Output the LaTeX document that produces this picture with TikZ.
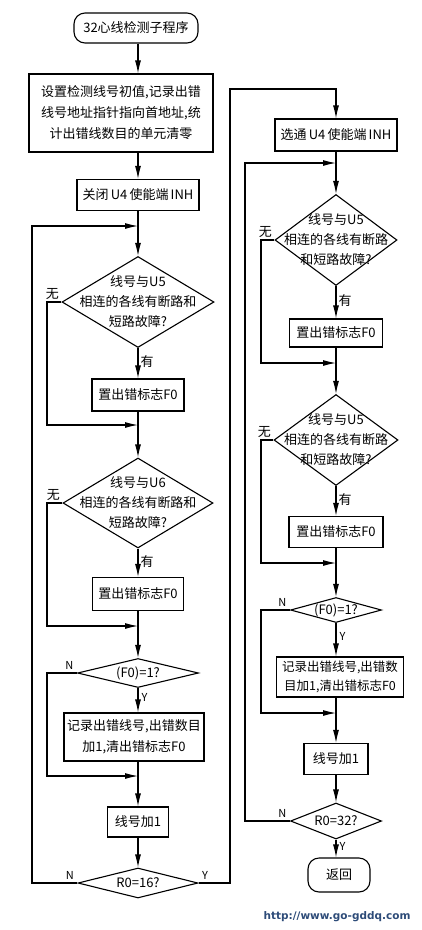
\documentclass[tikz,border=0pt]{standalone}
\usepackage{fontspec}
\newfontfamily\cjkfont{Noto Sans CJK SC}
\newfontfamily\urlfont{DejaVu Sans}
\usepackage{xcolor}
\usepackage{tikz}
\usetikzlibrary{arrows.meta, positioning, shapes.geometric}
\definecolor{wmblue}{RGB}{45,75,120}

\begin{document}
\begin{tikzpicture}[x=1pt, y=-1pt,
  fbox/.style={rectangle, draw=black, line width=1.1pt, inner sep=2pt, align=center, font=\cjkfont\fontsize{13}{21}\selectfont},
  fterm/.style={fbox, rounded corners=11pt},
  fdia/.style={diamond, draw=black, line width=1.1pt, inner sep=0pt},
  dtext/.style={align=center, font=\cjkfont\fontsize{13}{20}\selectfont},
  conn/.style={line width=1.1pt, -{Latex[length=13pt,width=6pt]}},
  tag/.style={font=\cjkfont\fontsize{13}{13}\selectfont, inner sep=2pt},
  yn/.style={font=\cjkfont\fontsize{11}{11}\selectfont, inner sep=3pt}
]
  \useasboundingbox (0,0) rectangle (421,930);
  % x positions of the loop-back lines
  \coordinate (LA) at (32,0);
  \coordinate (LB) at (47,0);
  \coordinate (RA) at (230,0);
  \coordinate (RB) at (245,0);
  \coordinate (RC) at (261,0);

  % left column
  \node[fterm, minimum width=124, minimum height=30] (S) at (136,28) {32心线检测子程序};
  \node[fbox, minimum width=184, minimum height=78] (B1) at (121,113) {设置检测线号初值,记录出错\\线号地址指针指向首地址,统\\计出错线数目的单元清零};
  \node[fbox, minimum width=122, minimum height=31] (B2) at (138,195) {关闭\,U4\,使能端\,INH};
  \coordinate (J1) at (138,226);
  \node[fdia, minimum width=152, minimum height=91] (D1) at (138,302) {};
  \node[dtext] at (D1.center) {线号与U5\\相连的各线有断路和\\短路故障?};
  \node[fbox, minimum width=92, minimum height=32] (F1) at (138,395) {置出错标志F0};
  \coordinate (M1) at (138,425);
  \node[fdia, minimum width=150, minimum height=90] (D2) at (138,503) {};
  \node[dtext] at (D2.center) {线号与U6\\相连的各线有断路和\\短路故障?};
  \node[fbox, minimum width=91, minimum height=33] (F2) at (138,594) {置出错标志F0};
  \coordinate (M2) at (138,626);
  \node[fdia, minimum width=121, minimum height=29] (D3) at (138,673) {};
  \node[dtext] at (D3.center) {(F0)=1?};
  \node[fbox, minimum width=140, minimum height=48] (B3) at (134,737) {记录出错线号,出错数目\\加1,清出错标志F0};
  \coordinate (M3) at (138,776);
  \node[fbox, minimum width=61, minimum height=30] (C1) at (138,822) {线号加1};
  \node[fdia, minimum width=120, minimum height=30] (D4) at (138,883) {};
  \node[dtext] at (D4.center) {R0=16?};

  % right column
  \coordinate (T1) at (336,89);
  \node[fbox, minimum width=122, minimum height=32] (B4) at (336,135) {选通\,U4\,使能端\,INH};
  \coordinate (J2) at (336,163);
  \node[fdia, minimum width=122, minimum height=91] (D5) at (336,240) {};
  \node[dtext] at (D5.center) {线号与U5\\相连的各线有断路\\和短路故障?};
  \node[fbox, minimum width=93, minimum height=28] (F3) at (336,333) {置出错标志F0};
  \coordinate (M4) at (336,363);
  \node[fdia, minimum width=124, minimum height=91] (D6) at (336,440) {};
  \node[dtext] at (D6.center) {线号与U5\\相连的各线有断路\\和短路故障?};
  \node[fbox, minimum width=94, minimum height=31] (F4) at (336,532) {置出错标志F0};
  \coordinate (M5) at (336,563);
  \node[fdia, minimum width=91, minimum height=25] (D7) at (336,610) {};
  \node[dtext] at (D7.center) {(F0)=1?};
  \node[fbox, minimum width=127, minimum height=40, font=\cjkfont\fontsize{12.5}{19}\selectfont] (B5) at (340,677) {记录出错线号,出错数\\目加1,清出错标志F0};
  \coordinate (M6) at (336,713);
  \node[fbox, minimum width=64, minimum height=31] (C2) at (336,759) {线号加1};
  \node[fdia, minimum width=91, minimum height=36] (D8) at (336,821) {};
  \node[dtext] at (D8.center) {R0=32?};
  \node[fterm, minimum width=62, minimum height=34] (R) at (339,875) {返回};

  % connectors, left column
  \draw[conn] (S.south -| J1) -- (J1 |- B1.north);
  \draw[conn] (B1.south -| B2) -- (B2.north);
  \draw[conn] (B2) -- (D1);
  \draw[conn] (D1) -- node[tag, right, pos=.45] {有} (F1);
  \draw[conn] (F1) -- (D2);
  \draw[conn] (D1.west) node[tag, anchor=south east] {无} -- (D1.west -| LB) |- (M1);
  \draw[conn] (D2) -- node[tag, right, pos=.45] {有} (F2);
  \draw[conn] (F2) -- (D3);
  \draw[conn] (D2.west) node[tag, anchor=south east] {无} -- (D2.west -| LB) |- (M2);
  \draw[conn] (D3) -- node[yn, right, pos=.4] {Y} (D3.south |- B3.north);
  \draw[conn] (D3.west) node[yn, anchor=south east] {N} -- (D3.west -| LB) |- (M3);
  \draw[conn] (M3 |- B3.south) -- (C1);
  \draw[conn] (C1) -- (D4);
  \draw[conn] (D4.west) node[yn, anchor=south east] {N} -- (D4.west -| LA) |- (J1);
  \draw[conn] (D4.east) node[yn, anchor=south west] {Y} -- (D4.east -| RA) |- (T1) -- (B4.north);

  % connectors, right column
  \draw[conn] (B4) -- (D5);
  \draw[conn] (D5) -- node[tag, right, pos=.45] {有} (F3);
  \draw[conn] (F3) -- (D6);
  \draw[conn] (D5.west) node[tag, anchor=south east] {无} -- (D5.west -| RC) |- (M4);
  \draw[conn] (D6) -- node[tag, right, pos=.45] {有} (F4);
  \draw[conn] (F4) -- (D7);
  \draw[conn] (D6.west) node[tag, anchor=south east] {无} -- (D6.west -| RC) |- (M5);
  \draw[conn] (D7) -- node[yn, right, pos=.4] {Y} (D7.south |- B5.north);
  \draw[conn] (D7.west) node[yn, anchor=south east] {N} -- (D7.west -| RC) |- (M6);
  \draw[conn] (M6 |- B5.south) -- (C2);
  \draw[conn] (C2) -- (D8);
  \draw[conn] (D8.west) node[yn, anchor=south east] {N} -- (D8.west -| RB) |- (J2);
  \draw[conn] (D8) -- node[yn, right, pos=.4] {Y} (D8.south |- R.north);

  \node[font=\urlfont\bfseries\fontsize{10.5}{12}\selectfont, text=wmblue, anchor=east] (W) at (414,917) {http://www.go-gddq.com};
\end{tikzpicture}
\end{document}
